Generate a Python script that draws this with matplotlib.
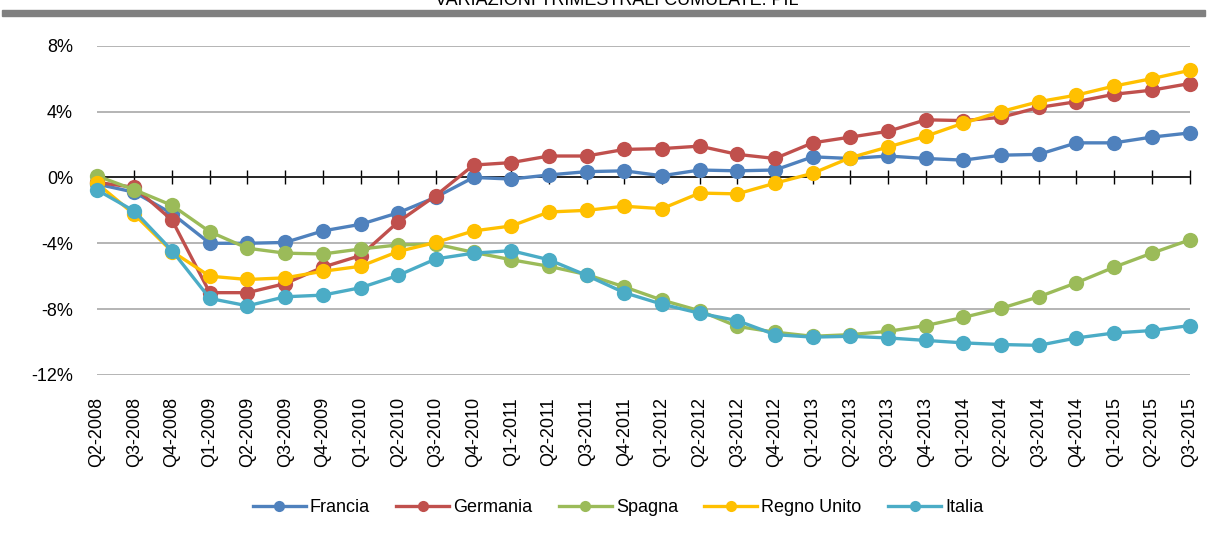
import matplotlib
matplotlib.use("Agg")
import matplotlib.pyplot as plt
from matplotlib.patches import Rectangle
from matplotlib.ticker import FuncFormatter

plt.rcParams['font.family'] = ['Liberation Sans', 'DejaVu Sans']
plt.rcParams['axes.unicode_minus'] = False

categories = ["Q2-2008", "Q3-2008", "Q4-2008",
              "Q1-2009", "Q2-2009", "Q3-2009", "Q4-2009",
              "Q1-2010", "Q2-2010", "Q3-2010", "Q4-2010",
              "Q1-2011", "Q2-2011", "Q3-2011", "Q4-2011",
              "Q1-2012", "Q2-2012", "Q3-2012", "Q4-2012",
              "Q1-2013", "Q2-2013", "Q3-2013", "Q4-2013",
              "Q1-2014", "Q2-2014", "Q3-2014", "Q4-2014",
              "Q1-2015", "Q2-2015", "Q3-2015"]

francia = [-0.4, -0.9, -2.2, -4.0, -4.0, -3.95, -3.25, -2.85, -2.15, -1.2,
           0.0, -0.1, 0.15, 0.35, 0.4, 0.1, 0.45, 0.4, 0.45, 1.25,
           1.15, 1.3, 1.15, 1.05, 1.35, 1.4, 2.1, 2.1, 2.45, 2.7]
germania = [-0.3, -0.6, -2.6, -7.0, -7.0, -6.45, -5.45, -4.75, -2.7, -1.1,
            0.75, 0.9, 1.3, 1.3, 1.7, 1.75, 1.9, 1.4, 1.15, 2.1,
            2.45, 2.8, 3.5, 3.45, 3.65, 4.25, 4.6, 5.05, 5.3, 5.7]
spagna = [0.1, -0.75, -1.7, -3.3, -4.3, -4.6, -4.65, -4.35, -4.1, -4.05,
          -4.55, -5.0, -5.4, -5.9, -6.65, -7.45, -8.1, -9.05, -9.4, -9.65,
          -9.55, -9.35, -9.0, -8.5, -7.95, -7.25, -6.4, -5.45, -4.6, -3.8]
regno_unito = [-0.35, -2.25, -4.5, -6.0, -6.2, -6.1, -5.7, -5.4, -4.5, -3.95,
               -3.25, -2.95, -2.1, -2.0, -1.75, -1.9, -0.95, -1.0, -0.35, 0.25,
               1.2, 1.85, 2.5, 3.3, 4.0, 4.6, 5.0, 5.55, 6.0, 6.5]
italia = [-0.75, -2.05, -4.45, -7.35, -7.8, -7.25, -7.15, -6.7, -5.95, -4.95,
          -4.6, -4.45, -5.0, -5.95, -7.0, -7.7, -8.25, -8.7, -9.55, -9.7,
          -9.65, -9.75, -9.9, -10.05, -10.15, -10.2, -9.75, -9.45, -9.3, -9.0]

series_names = ["Francia", "Germania", "Spagna", "Regno Unito", "Italia"]
series_values = [francia, germania, spagna, regno_unito, italia]
colors = ["#4F81BD", "#C0504D", "#9BBB59", "#FFC000", "#4BACC6"]

yticks = [-12, -8, -4, 0, 4, 8]
title = "VARIAZIONI TRIMESTRALI CUMULATE: PIL"

fig = plt.figure(figsize=(12.09, 5.39), dpi=100)
ax = fig.add_axes([0.080, 0.3043, 0.9039, 0.6109])

x = list(range(len(categories)))
for name, vals, c in zip(series_names, series_values, colors):
    ax.plot(x, vals, color=c, lw=2.4, marker='o', markersize=11,
            markeredgewidth=0, label=name, clip_on=False, zorder=3)

ax.set_xlim(0, len(categories) - 1)
ax.set_ylim(-12, 8)
ax.set_yticks(yticks)
ax.yaxis.set_major_formatter(FuncFormatter(lambda v, p: f"{int(v)}%"))
ax.tick_params(axis='y', length=0, pad=17, labelsize=13)
ax.yaxis.grid(True, color='#A0A0A0', lw=1.1)
ax.set_axisbelow(True)

for s in ['left', 'right', 'top']:
    ax.spines[s].set_visible(False)
ax.spines['bottom'].set_position(('data', 0))
ax.spines['bottom'].set_color('black')
ax.spines['bottom'].set_linewidth(1.1)
ax.spines['bottom'].set_zorder(2)
ax.set_xticks(x)
ax.tick_params(axis='x', direction='inout', length=9.5, width=1.0,
               color='black', labelbottom=False)

sec = ax.secondary_xaxis('bottom')
sec.set_xticks(x)
sec.set_xticklabels(categories, rotation=90)
sec.tick_params(axis='x', length=0, pad=16, labelsize=13)
for s in sec.spines.values():
    s.set_visible(False)

leg = fig.legend(loc='center', bbox_to_anchor=(618 / 1209, 1 - 508 / 539),
                 ncol=5, frameon=False, fontsize=13, handlelength=2.93,
                 handletextpad=0.22, columnspacing=1.47, markerscale=0.73,
                 borderpad=0, borderaxespad=0)

fig.text(0.51, 1 - 5 / 539, title, ha='center', va='baseline', fontsize=13)
fig.patches.append(Rectangle((2 / 1209, 1 - 16 / 539), 1203 / 1209, 6 / 539,
                             transform=fig.transFigure, color='#808080',
                             zorder=0))

fig.savefig("out.png", dpi=100)
